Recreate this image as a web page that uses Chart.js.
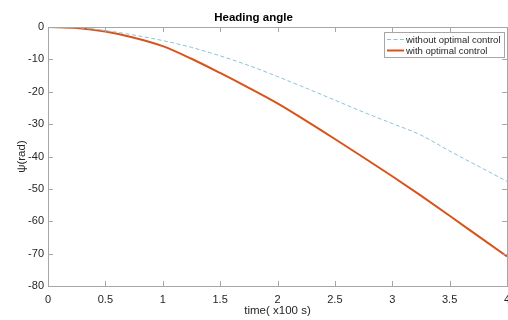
<!DOCTYPE html>
<html>
<head>
<meta charset="utf-8">
<script src="https://cdn.jsdelivr.net/npm/chart.js@4"></script>
<style>
  html, body { margin: 0; padding: 0; background: #fff; }
  #wrap { width: 508px; height: 320px; }
</style>
</head>
<body>
<div id="wrap"><canvas id="headingChart"></canvas></div>
<script>
// time axis (x100 s)
const timeValues = [0, 0.25, 0.5, 0.75, 1, 1.25, 1.5, 1.75, 2, 2.25, 2.5, 2.75, 3, 3.25, 3.5, 3.75, 4];
// psi without optimal control (dashed)
const psiWithout = [0, -0.2, -1.1, -2.5, -4.2, -6.3, -8.9, -11.9, -15.3, -18.9, -22.6, -26.3, -29.8, -33.4, -38.3, -43.0, -47.7];
// psi with optimal control (solid)
const psiWith = [0, -0.3, -1.4, -3.3, -5.9, -9.8, -14.2, -18.8, -23.6, -29.0, -34.6, -40.3, -46.1, -52.1, -58.3, -64.6, -70.9];

const xTicks = [0, 0.5, 1, 1.5, 2, 2.5, 3, 3.5, 4];
const yTicks = [0, -10, -20, -30, -40, -50, -60, -70, -80];

const FONT = '"Liberation Sans", Arial, Helvetica, sans-serif';
const AXIS_GRAY = '#a6a6a6';
const TEXT_DARK = '#262626';

function toPoints(xs, ys) {
    return xs.map((x, i) => ({ x: x, y: ys[i] }));
}

// box around the axes + inner tick marks (MATLAB style)
const boxPlugin = {
    id: 'boxPlugin',
    afterDraw(chart) {
        const { ctx, chartArea: a, scales } = chart;
        const tl = 5;
        ctx.save();
        ctx.strokeStyle = AXIS_GRAY;
        ctx.lineWidth = 1;
        ctx.beginPath();
        xTicks.forEach(v => {
            const px = Math.round(scales.x.getPixelForValue(v)) + 0.5;
            ctx.moveTo(px, a.bottom); ctx.lineTo(px, a.bottom - tl);
            ctx.moveTo(px, a.top); ctx.lineTo(px, a.top + tl);
        });
        yTicks.forEach(v => {
            const py = Math.round(scales.y.getPixelForValue(v)) + 0.5;
            ctx.moveTo(a.left, py); ctx.lineTo(a.left + tl, py);
            ctx.moveTo(a.right, py); ctx.lineTo(a.right - tl, py);
        });
        ctx.stroke();
        ctx.strokeRect(Math.round(a.left) + 0.5, Math.round(a.top) + 0.5,
            Math.round(a.right - a.left), Math.round(a.bottom - a.top));
        ctx.restore();
    }
};

// legend drawn inside the upper-right corner of the axes
const innerLegend = {
    id: 'innerLegend',
    afterDraw(chart) {
        const { ctx } = chart;
        const bx = 384.5, by = 32.5, bw = 120, bh = 25;
        ctx.save();
        ctx.fillStyle = '#fff';
        ctx.fillRect(bx, by, bw, bh);
        ctx.strokeStyle = AXIS_GRAY;
        ctx.lineWidth = 1;
        ctx.strokeRect(bx, by, bw, bh);
        ctx.font = '9.5px ' + FONT;
        ctx.textBaseline = 'middle';
        ctx.fillStyle = TEXT_DARK;
        chart.data.datasets.forEach((ds, i) => {
            const y = 39.5 + i * 11;
            ctx.beginPath();
            ctx.strokeStyle = ds.borderColor;
            ctx.lineWidth = ds.borderWidth;
            ctx.setLineDash(ds.borderDash || []);
            ctx.moveTo(387, y);
            ctx.lineTo(404, y);
            ctx.stroke();
            ctx.setLineDash([]);
            ctx.fillText(ds.label, 406, y + 0.5);
        });
        ctx.restore();
    }
};

new Chart(document.getElementById('headingChart'), {
    type: 'line',
    data: {
        datasets: [
            {
                label: 'without optimal control',
                data: toPoints(timeValues, psiWithout),
                borderColor: '#86c4da',
                borderWidth: 1,
                borderDash: [4, 2.5],
                pointRadius: 0,
                fill: false,
                cubicInterpolationMode: 'monotone'
            },
            {
                label: 'with optimal control',
                data: toPoints(timeValues, psiWith),
                borderColor: '#d95319',
                borderWidth: 2,
                pointRadius: 0,
                fill: false,
                cubicInterpolationMode: 'monotone'
            }
        ]
    },
    options: {
        responsive: true,
        maintainAspectRatio: false,
        animation: false,
        layout: { padding: { left: 0, right: 1, top: 0, bottom: 0 } },
        plugins: {
            legend: { display: false },
            tooltip: { enabled: false },
            title: {
                display: true,
                text: 'Heading angle',
                color: '#000',
                font: { family: FONT, size: 11.5, weight: 'bold' },
                padding: { top: 11, bottom: 2.2 }
            }
        },
        scales: {
            x: {
                type: 'linear',
                min: 0,
                max: 4,
                afterBuildTicks(scale) {
                    scale.ticks = xTicks.map(v => ({ value: v }));
                },
                ticks: {
                    padding: 7,
                    color: TEXT_DARK,
                    font: { family: FONT, size: 11 },
                    maxRotation: 0,
                    autoSkip: false,
                    callback: v => String(v)
                },
                grid: { display: false, drawTicks: false },
                border: { display: false },
                title: {
                    display: true,
                    text: 'time( x100 s)',
                    color: TEXT_DARK,
                    font: { family: FONT, size: 11.5 },
                    padding: { top: 0, bottom: 2 }
                },
                afterFit(scale) {
                    scale.height = 34;
                    scale.paddingLeft = 0;
                    scale.paddingRight = 0;
                }
            },
            y: {
                min: -80,
                max: 0,
                afterBuildTicks(scale) {
                    scale.ticks = yTicks.slice().reverse().map(v => ({ value: v }));
                },
                ticks: {
                    padding: 4,
                    color: TEXT_DARK,
                    font: { family: FONT, size: 11 },
                    callback: v => String(v)
                },
                grid: { display: false, drawTicks: false },
                border: { display: false },
                title: {
                    display: true,
                    text: 'ψ(rad)',
                    color: TEXT_DARK,
                    font: { family: FONT, size: 11.5 },
                    padding: { top: 14.8, bottom: 0 }
                },
                afterFit(scale) {
                    scale.width = 48;
                    scale.paddingTop = 0;
                    scale.paddingBottom = 0;
                }
            }
        }
    },
    plugins: [boxPlugin, innerLegend]
});
</script>
</body>
</html>
